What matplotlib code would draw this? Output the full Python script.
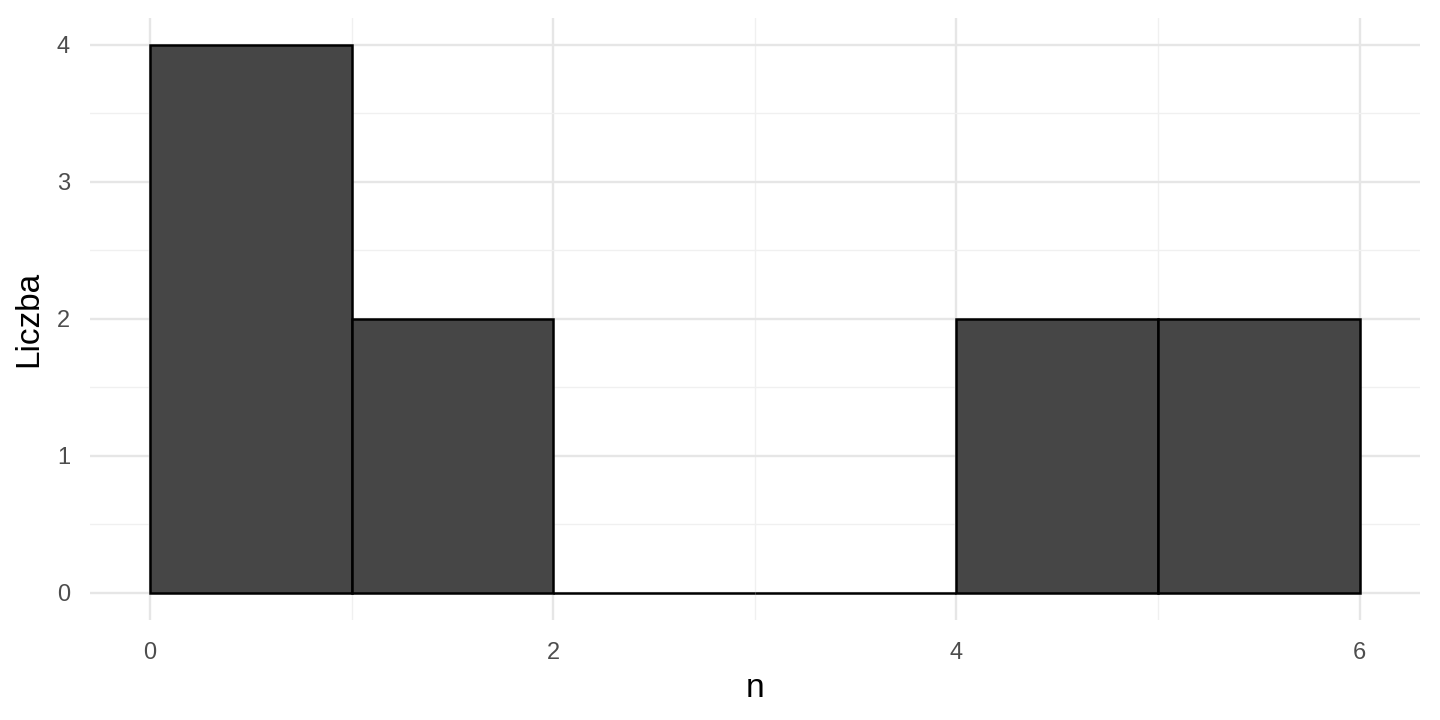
import matplotlib.pyplot as plt
from matplotlib.ticker import MultipleLocator

plt.rcParams['font.family'] = ['Liberation Sans', 'DejaVu Sans']

# histogram bins and counts
bin_edges = [0, 1, 2, 3, 4, 5, 6]
counts = [4, 2, 0, 0, 2, 2]
x_ticks = [0, 2, 4, 6]
y_ticks = [0, 1, 2, 3, 4]

fig = plt.figure(figsize=(14.4, 7.2), dpi=100)
ax = fig.add_axes([0.0622, 0.1389, 0.924, 0.8367])

lefts = bin_edges[:-1]
widths = [b - a for a, b in zip(bin_edges[:-1], bin_edges[1:])]
ax.bar(lefts, counts, width=widths, align='edge', color='#464646',
       edgecolor='black', linewidth=1.8, zorder=3)

ax.set_xlim(-0.3, 6.3)
ax.set_ylim(-0.2, 4.2)
ax.set_xticks(x_ticks)
ax.set_yticks(y_ticks)
ax.xaxis.set_minor_locator(MultipleLocator(1))
ax.yaxis.set_minor_locator(MultipleLocator(0.5))

ax.grid(which='major', color='#e6e6e6', linewidth=1.7, zorder=0)
ax.grid(which='minor', color='#f0f0f0', linewidth=1.0, zorder=0)
ax.set_axisbelow(True)

for s in ax.spines.values():
    s.set_visible(False)
ax.tick_params(which='both', length=0)
ax.tick_params(axis='both', labelsize=17, labelcolor='#4d4d4d')
ax.tick_params(axis='y', pad=14)
ax.tick_params(axis='x', pad=16)

ax.set_xlabel('n', fontsize=24, labelpad=6)
ax.set_ylabel('Liczba', fontsize=24, labelpad=9)

fig.savefig('out.png', dpi=100)
